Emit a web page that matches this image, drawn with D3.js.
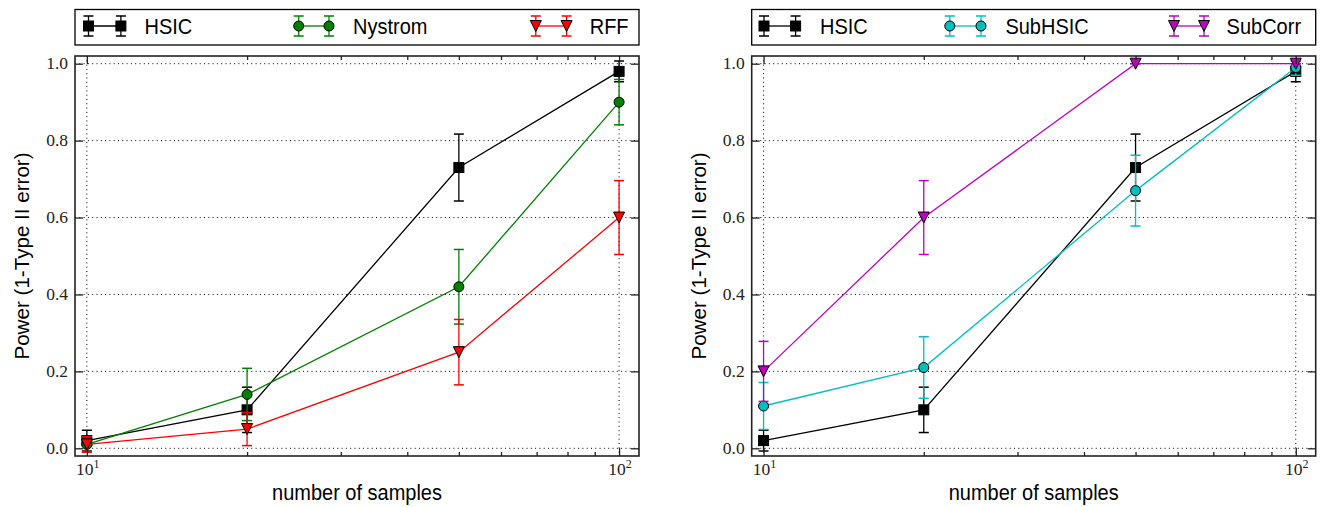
<!DOCTYPE html>
<html>
<head>
<meta charset="utf-8">
<script src="https://cdn.jsdelivr.net/npm/d3@7"></script>
<style>
  html, body { margin: 0; padding: 0; background: #fff; }
  svg { display: block; }
</style>
</head>
<body>
<svg id="chart" width="1321" height="507"></svg>
<script>
// ---------------- data ----------------
const samples = [10, 20, 50, 100];

const hsic      = [0.02, 0.10, 0.73, 0.98];
const hsicErr   = [0.027, 0.059, 0.087, 0.027];

const nystrom    = [0.01, 0.14, 0.42, 0.90];
const nystromErr = [0.020, 0.068, 0.097, 0.059];

const rff    = [0.01, 0.05, 0.25, 0.60];
const rffErr = [0.020, 0.043, 0.085, 0.096];

const subHSIC    = [0.11, 0.21, 0.67, 0.99];
const subHSICErr = [0.061, 0.080, 0.092, 0.020];

const subCorr    = [0.20, 0.60, 1.00, 1.00];
const subCorrErr = [0.078, 0.096, 0.0, 0.0];

const yTicks = [0.0, 0.2, 0.4, 0.6, 0.8, 1.0];
const xMajorTicks = [10, 100];
const xMinorTicks = [20, 30, 40, 50, 60, 70, 80, 90];
const xLabel = "number of samples";
const yLabel = "Power (1-Type II error)";

const leftSeries = [
  { name: "HSIC",    values: hsic,    errors: hsicErr,    color: "#000000", marker: "square" },
  { name: "Nystrom", values: nystrom, errors: nystromErr, color: "#008000", marker: "circle" },
  { name: "RFF",     values: rff,     errors: rffErr,     color: "#ff0000", marker: "tridown" }
];
const rightSeries = [
  { name: "HSIC",    values: hsic,    errors: hsicErr,    color: "#000000", marker: "square" },
  { name: "SubHSIC", values: subHSIC, errors: subHSICErr, color: "#00bfbf", marker: "circle" },
  { name: "SubCorr", values: subCorr, errors: subCorrErr, color: "#bf00bf", marker: "tridown" }
];

// ---------------- layout ----------------
const svg = d3.select("#chart");
const plotTop = 56, plotBottom = 456;
const panels = [
  { x0: 75,    x1: 639,    series: leftSeries,
    legend: [[13.5, 45.9, 69.5], [223.7, 254.0, 278.0], [460.8, 491.6, 514.7]] },
  { x0: 751.7, x1: 1315.7, series: rightSeries,
    legend: [[12.3, 43.9, 68.3], [198.1, 229.3, 253.7], [422.3, 452.3, 474.9]] }
];

const sans = "'Liberation Sans', Arial, Helvetica, sans-serif";
const serif = "'Liberation Serif', 'DejaVu Serif', serif";

function drawMarker(g, type, cx, cy, color) {
  if (type === "square") {
    g.append("rect").attr("x", cx - 5).attr("y", cy - 5).attr("width", 10).attr("height", 10)
      .attr("fill", color).attr("stroke", "#000").attr("stroke-width", 1);
  } else if (type === "circle") {
    g.append("circle").attr("cx", cx).attr("cy", cy).attr("r", 5)
      .attr("fill", color).attr("stroke", "#000").attr("stroke-width", 1);
  } else {
    const r = 5.5;
    g.append("path").attr("d", `M${cx - r},${cy - r}L${cx + r},${cy - r}L${cx},${cy + r}Z`)
      .attr("fill", color).attr("stroke", "#000").attr("stroke-width", 1);
  }
}

function drawErr(g, cx, yTop, yBot, color) {
  g.append("line").attr("x1", cx).attr("x2", cx).attr("y1", yTop).attr("y2", yBot)
    .attr("stroke", color).attr("stroke-width", 1.3);
  [yTop, yBot].forEach(yy => {
    g.append("line").attr("x1", cx - 5).attr("x2", cx + 5).attr("y1", yy).attr("y2", yy)
      .attr("stroke", color).attr("stroke-width", 1.5);
  });
}

// horizontal text, slightly stretched vertically like the reference
function sansText(g, x, y, str, anchor, sy) {
  return g.append("text").attr("transform", `translate(${x},${y}) scale(1,${sy})`)
    .attr("text-anchor", anchor).attr("font-family", sans).attr("font-size", 20).text(str);
}

panels.forEach(p => {
  const x = d3.scaleLog().domain([9.5, 109]).range([p.x0, p.x1]);
  const y = d3.scaleLinear().domain([-0.02, 1.02]).range([plotBottom, plotTop]);
  const g = svg.append("g");

  // grid
  g.selectAll(".hgrid").data(yTicks).enter().append("line")
    .attr("x1", p.x0).attr("x2", p.x1)
    .attr("y1", d => y(d)).attr("y2", d => y(d))
    .attr("stroke", "#000").attr("stroke-width", 1).attr("stroke-dasharray", "1,3.3");
  g.selectAll(".vgrid").data(xMajorTicks).enter().append("line")
    .attr("x1", d => x(d)).attr("x2", d => x(d))
    .attr("y1", plotTop).attr("y2", plotBottom)
    .attr("stroke", "#000").attr("stroke-width", 1).attr("stroke-dasharray", "1,3.3");

  // series
  p.series.forEach(s => {
    const pts = samples.map((n, i) => ({ n, v: s.values[i], e: s.errors[i] }));
    const sg = g.append("g");
    sg.append("path").datum(pts)
      .attr("d", d3.line().x(d => x(d.n)).y(d => y(d.v)))
      .attr("fill", "none").attr("stroke", s.color).attr("stroke-width", 1.3);
    pts.forEach(d => drawErr(sg, x(d.n), y(d.v + d.e), y(d.v - d.e), s.color));
    pts.forEach(d => drawMarker(sg, s.marker, x(d.n), y(d.v), s.color));
  });

  // axes (ticks inward) using d3 axes
  const axB = d3.axisBottom(x).tickValues(xMajorTicks).tickSize(-8).tickFormat("");
  const axBm = d3.axisBottom(x).tickValues(xMinorTicks).tickSize(-4).tickFormat("");
  const axT = d3.axisTop(x).tickValues(xMajorTicks).tickSize(-8).tickFormat("");
  const axTm = d3.axisTop(x).tickValues(xMinorTicks).tickSize(-4).tickFormat("");
  const axL = d3.axisLeft(y).tickValues(yTicks).tickSize(-8).tickFormat("");
  const axR = d3.axisRight(y).tickValues(yTicks).tickSize(-8).tickFormat("");
  [[axB, `translate(0,${plotBottom})`], [axBm, `translate(0,${plotBottom})`],
   [axT, `translate(0,${plotTop})`], [axTm, `translate(0,${plotTop})`],
   [axL, `translate(${p.x0},0)`], [axR, `translate(${p.x1},0)`]].forEach(([ax, tr]) => {
    const a = g.append("g").attr("transform", tr).call(ax);
    a.select(".domain").remove();
    a.selectAll(".tick line").attr("stroke", "#222").attr("stroke-width", 1.3);
  });

  // frame
  g.append("rect").attr("x", p.x0).attr("y", plotTop).attr("width", p.x1 - p.x0).attr("height", plotBottom - plotTop)
    .attr("fill", "none").attr("stroke", "#222").attr("stroke-width", 1.6);

  // y tick labels
  g.selectAll(".ylab").data(yTicks).enter().append("text")
    .attr("x", p.x0 - 7).attr("y", d => y(d) + 5.5)
    .attr("text-anchor", "end").attr("font-family", serif).attr("font-size", 17.5)
    .attr("fill", "#222").text(d => d.toFixed(1));

  // x tick labels 10^k
  xMajorTicks.forEach(t => {
    const tx = g.append("text").attr("x", x(t) + 1).attr("y", 475)
      .attr("text-anchor", "middle").attr("font-family", serif).attr("font-size", 17.5).attr("fill", "#222");
    tx.append("tspan").text("10");
    tx.append("tspan").attr("font-size", 12).attr("dy", -7).text(String(Math.round(Math.log10(t))));
  });

  // axis labels
  sansText(g, (p.x0 + p.x1) / 2, 500, xLabel, "middle", 1.06);
  g.append("text").attr("transform", `translate(${p.x0 - 46},${(plotTop + plotBottom) / 2}) rotate(-90) scale(1.03,1)`)
    .attr("text-anchor", "middle").attr("font-family", sans).attr("font-size", 20).text(yLabel);

  // legend
  const lg = g.append("g");
  lg.append("rect").attr("x", p.x0).attr("y", 9.5).attr("width", p.x1 - p.x0).attr("height", 35.5)
    .attr("fill", "#fff").attr("stroke", "#000").attr("stroke-width", 1.3);
  const ly = 26;
  p.series.forEach((s, i) => {
    const [a, b, t] = p.legend[i];
    lg.append("line").attr("x1", p.x0 + a).attr("x2", p.x0 + b).attr("y1", ly).attr("y2", ly)
      .attr("stroke", s.color).attr("stroke-width", 1.3);
    [a, b].forEach(px => {
      drawErr(lg, p.x0 + px, ly - 10, ly + 10, s.color);
      drawMarker(lg, s.marker, p.x0 + px, ly, s.color);
    });
    sansText(lg, p.x0 + t, ly + 7.5, s.name, "start", 1.1);
  });
});
</script>
</body>
</html>
